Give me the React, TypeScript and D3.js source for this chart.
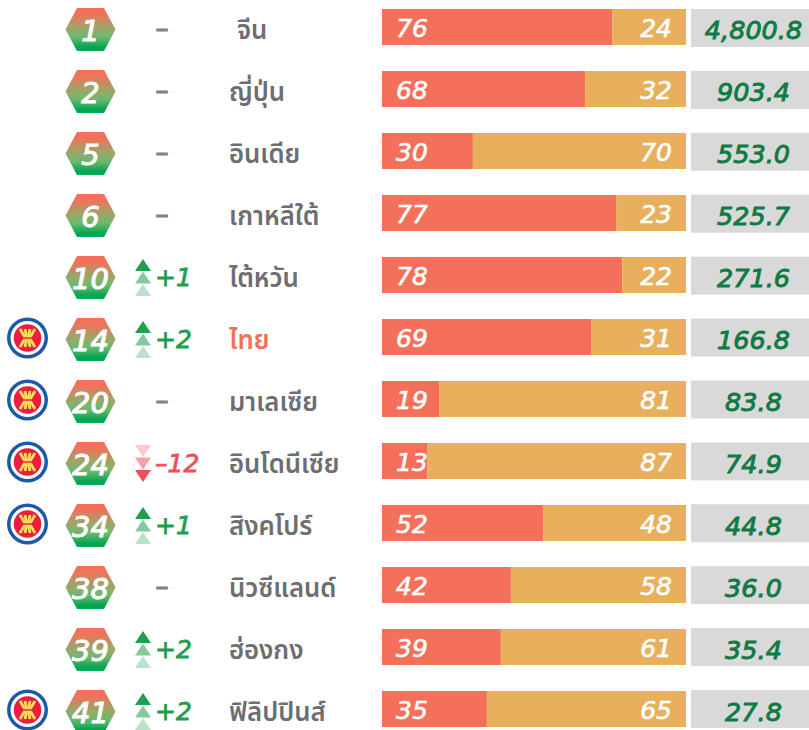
import React from "react";
import * as d3 from "d3";

const countries = ["จีน", "ญี่ปุ่น", "อินเดีย", "เกาหลีใต้", "ไต้หวัน", "ไทย", "มาเลเซีย", "อินโดนีเซีย", "สิงคโปร์", "นิวซีแลนด์", "ฮ่องกง", "ฟิลิปปินส์"];
const ranks = [1, 2, 5, 6, 10, 14, 20, 24, 34, 38, 39, 41];
const rankChange = [0, 0, 0, 0, 1, 2, 0, -12, 1, 0, 2, 2];
const leftShare = [76, 68, 30, 77, 78, 69, 19, 13, 52, 42, 39, 35];
const rightShare = [24, 32, 70, 23, 22, 31, 81, 87, 48, 58, 61, 65];
// the bars in the picture don't sit exactly on their printed labels, so the split is read off separately
const leftBar = [75.7, 66.8, 29.9, 77, 79, 68.8, 18.8, 15, 53, 42.4, 39.1, 34.5];
const totals = ["4,800.8", "903.4", "553.0", "525.7", "271.6", "166.8", "83.8", "74.9", "44.8", "36.0", "35.4", "27.8"];
const asean = ["ไทย", "มาเลเซีย", "อินโดนีเซีย", "สิงคโปร์", "ฟิลิปปินส์"];

const W = 809;
const H = 730;
const numFont = "'DejaVu Sans', sans-serif";
const thaiFont = "'Noto Sans Thai', 'Noto Sans', 'Open Sans', sans-serif";
const GREEN = "#1f9e4f";
const RED = "#ee4f55";
const CORAL = "#f4705a";
const SAND = "#e8b05c";

const y = d3.scaleBand<number>().domain(d3.range(countries.length)).range([9, 727]).paddingInner(26 / 62).paddingOuter(0);
// the grey boxes drift up a pixel against the bars further down the page
const yBox = d3.scaleLinear().domain([0, 11]).range([9, 690]);
const x = d3.scaleLinear().domain([0, 100]).range([382, 686]);

const hexPath = d3.line()([[-25, 0], [-13.5, -21.5], [13.5, -21.5], [25, 0], [13.5, 21.5], [-13.5, 21.5]]) + "Z";
const triangle = d3.line()([[-8, 6], [0, -6], [8, 6]]) + "Z";
const stalk = d3.line();
const stalkOffsets = [-1.5, -0.5, 0.5, 1.5];

function AseanBadge() {
  return (
    <g>
      <circle r={20.5} fill="#1b5aa6" />
      <circle r={17} fill="#fff" />
      <circle r={13.8} fill="#ee1c3e" />
      {stalkOffsets.map(o => (
        <path
          key={o}
          d={stalk([[o * 5, -9], [o * 1.4, 0], [o * 5, 9]]) || ""}
          fill="none"
          stroke="#f7e15a"
          strokeWidth={2.8}
        />
      ))}
      <rect x={-6} y={-0.7} width={12} height={1.4} fill="#ee1c3e" />
    </g>
  );
}

function Arrows({ up }: { up: boolean }) {
  const fill = up ? GREEN : RED;
  const opacities = up ? [1, 0.55, 0.3] : [0.3, 0.55, 1];
  return (
    <g>
      {opacities.map((op, i) => (
        <path
          key={i}
          d={triangle}
          transform={`translate(143,${-12.5 + i * 12.5})${up ? "" : " rotate(180)"}`}
          fill={fill}
          opacity={op}
        />
      ))}
    </g>
  );
}

export default function App() {
  return (
    <svg width={W} height={H} style={{ position: "absolute", left: 0, top: 0 }}>
      <defs>
        <linearGradient id="hexFill" x1="0" y1="0" x2="0" y2="1">
          <stop offset="0" stopColor="#f4705a" />
          <stop offset="0.12" stopColor="#f4705a" />
          <stop offset="0.5" stopColor="#93ab69" />
          <stop offset="0.68" stopColor="#6fb86f" />
          <stop offset="0.92" stopColor="#00a651" />
          <stop offset="1" stopColor="#00a651" />
        </linearGradient>
      </defs>
      {countries.map((name, i) => {
        const top = y(i) as number;
        const mid = top + y.bandwidth() / 2;
        const change = rankChange[i];
        return (
          <g key={name}>
            {asean.includes(name) && (
              <g transform={`translate(27.5,${mid + 1})`}>
                <AseanBadge />
              </g>
            )}
            <path d={hexPath} transform={`translate(90.5,${mid + 2.5})`} fill="url(#hexFill)" />
            <text x={90.5} y={mid + 13.5} textAnchor="middle" fontFamily={numFont} fontStyle="italic" fontSize={29} fill="#fff" stroke="#fff" strokeWidth={1}>
              {ranks[i]}
            </text>

            {change === 0 ? (
              <text x={162} y={mid + 10} textAnchor="middle" fontFamily={numFont} fontSize={26} fill="#808285" stroke="#808285" strokeWidth={1.2}>–</text>
            ) : (
              <g transform={`translate(0,${mid + 2.5})`}>
                <Arrows up={change > 0} />
                <text x={155} y={8} fontFamily={numFont} fontStyle="italic" fontSize={25} fill={change > 0 ? GREEN : RED} stroke={change > 0 ? GREEN : RED} strokeWidth={0.8}>
                  {change > 0 ? `+${change}` : `–${-change}`}
                </text>
              </g>
            )}

            <text x={i === 0 ? 237 : 229} y={mid + 12} fontFamily={thaiFont} fontSize={25.7} fontWeight={600} fill={name === "ไทย" ? CORAL : "#6d6e71"}>
              {name}
            </text>

            <rect x={x(0)} y={top} width={x(leftBar[i]) - x(0)} height={y.bandwidth()} fill={CORAL} />
            <rect x={x(leftBar[i])} y={top} width={x(100) - x(leftBar[i])} height={y.bandwidth()} fill={SAND} />
            <text x={x(0) + 14} y={mid + 9.5} fontFamily={numFont} fontStyle="italic" fontSize={25} fill="#fff" stroke="#fff" strokeWidth={0.6}>
              {leftShare[i]}
            </text>
            <text x={x(100) - 14} y={mid + 9.5} textAnchor="end" fontFamily={numFont} fontStyle="italic" fontSize={25} fill="#fff" stroke="#fff" strokeWidth={0.6}>
              {rightShare[i]}
            </text>

            <rect x={691} y={yBox(i)} width={118} height={38} fill="#d9d9d9" />
            <text x={753.5} y={mid + 12} textAnchor="middle" fontFamily={numFont} fontStyle="italic" fontSize={25.5} fill="#0f7a43" stroke="#0f7a43" strokeWidth={0.9}>
              {totals[i]}
            </text>
          </g>
        );
      })}
    </svg>
  );
}
